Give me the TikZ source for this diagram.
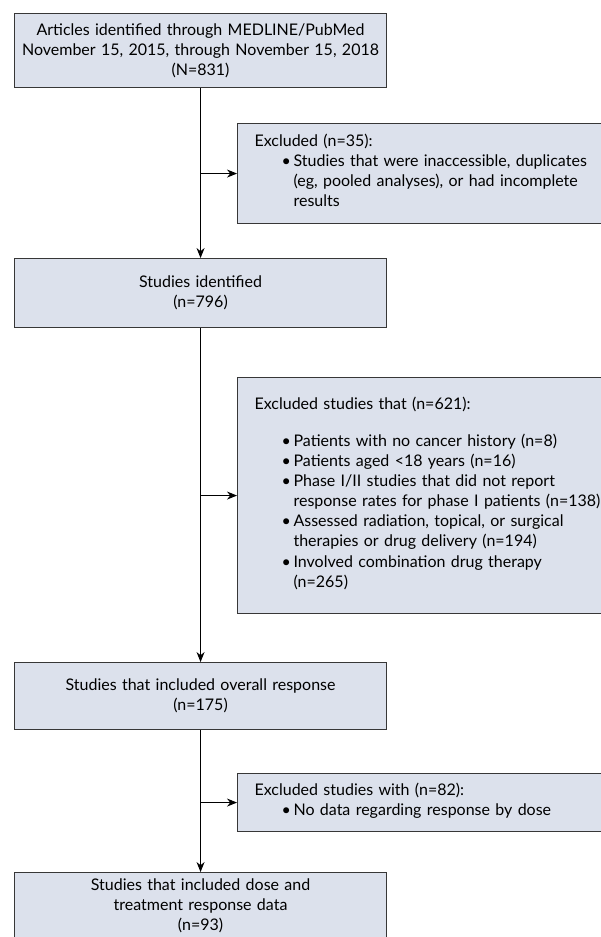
\documentclass[tikz,border=0pt]{standalone}
\usepackage{fontspec}
\setmainfont{Lato}
\usepackage{xcolor}
\usepackage{tikz}
\usetikzlibrary{arrows.meta, positioning, calc}
\definecolor{boxfill}{RGB}{220,225,236}
\definecolor{boxline}{RGB}{55,55,55}
\newcommand{\bul}[1]{\par\lineskip=0pt\hspace*{27pt}\makebox[12pt][l]{\textbullet}%
    \parbox[t]{320pt}{\strut#1\strut}}

\tikzset{
    flowbox/.style={draw=boxline, fill=boxfill, line width=1.1pt, anchor=north west,
        inner sep=0pt, align=center, font=\fontsize{16}{20}\selectfont},
    exclbox/.style={flowbox, align=left, inner xsep=17pt, text width=370pt},
    flowarrow/.style={-{Stealth[length=10pt,width=8pt]}, line width=1pt}
}

\begin{document}
\begin{tikzpicture}[x=1pt, y=-1pt]
\path[use as bounding box, fill=white] (0,0) rectangle (601,937);

\node[flowbox, minimum width=372pt, minimum height=74pt, text width=368pt] (ident) at (14,13)
{Articles identified through MEDLINE/PubMed\\
November 15, 2015, through November 15, 2018\\
(N=831)};

\node[exclbox, minimum height=100pt] (excl1) at (237,123)
{Excluded (n=35):
\bul{Studies that were inaccessible, duplicates\\
(eg, pooled analyses), or had incomplete\\
results}};

\node[flowbox, minimum width=372pt, minimum height=69pt, text width=360pt] (studies) at (14,258)
{Studies identified\\
(n=796)};

\node[exclbox, minimum height=236pt] (excl2) at (237,377)
{Excluded studies that (n=621):\par
\vspace{17pt}
\bul{Patients with no cancer history (n=8)}
\bul{Patients aged <18 years (n=16)}
\bul{Phase I/II studies that did not report\\
response rates for phase I patients (n=138)}
\bul{Assessed radiation, topical, or surgical\\
therapies or drug delivery (n=194)}
\bul{Involved combination drug therapy\\
(n=265)}};

\node[flowbox, minimum width=372pt, minimum height=67pt, text width=360pt] (overall) at (14,662)
{Studies that included overall response\\
(n=175)};

\node[exclbox, minimum height=58pt] (excl3) at (237,773)
{Excluded studies with (n=82):
\bul{No data regarding response by dose}};

\node[flowbox, minimum width=372pt, minimum height=66pt, text width=360pt] (dose) at (14,872)
{Studies that included dose and\\
treatment response data\\
(n=93)};

\draw[flowarrow] (ident.south -| studies.north) -- (studies.north);
\draw[flowarrow] (studies.north |- excl1.west) -- (excl1.west);
\draw[flowarrow] (studies.south) -- (overall.north);
\draw[flowarrow] (studies.south |- excl2.west) -- (excl2.west);
\draw[flowarrow] (overall.south) -- (dose.north);
\draw[flowarrow] (overall.south |- excl3.west) -- (excl3.west);
\end{tikzpicture}
\end{document}
